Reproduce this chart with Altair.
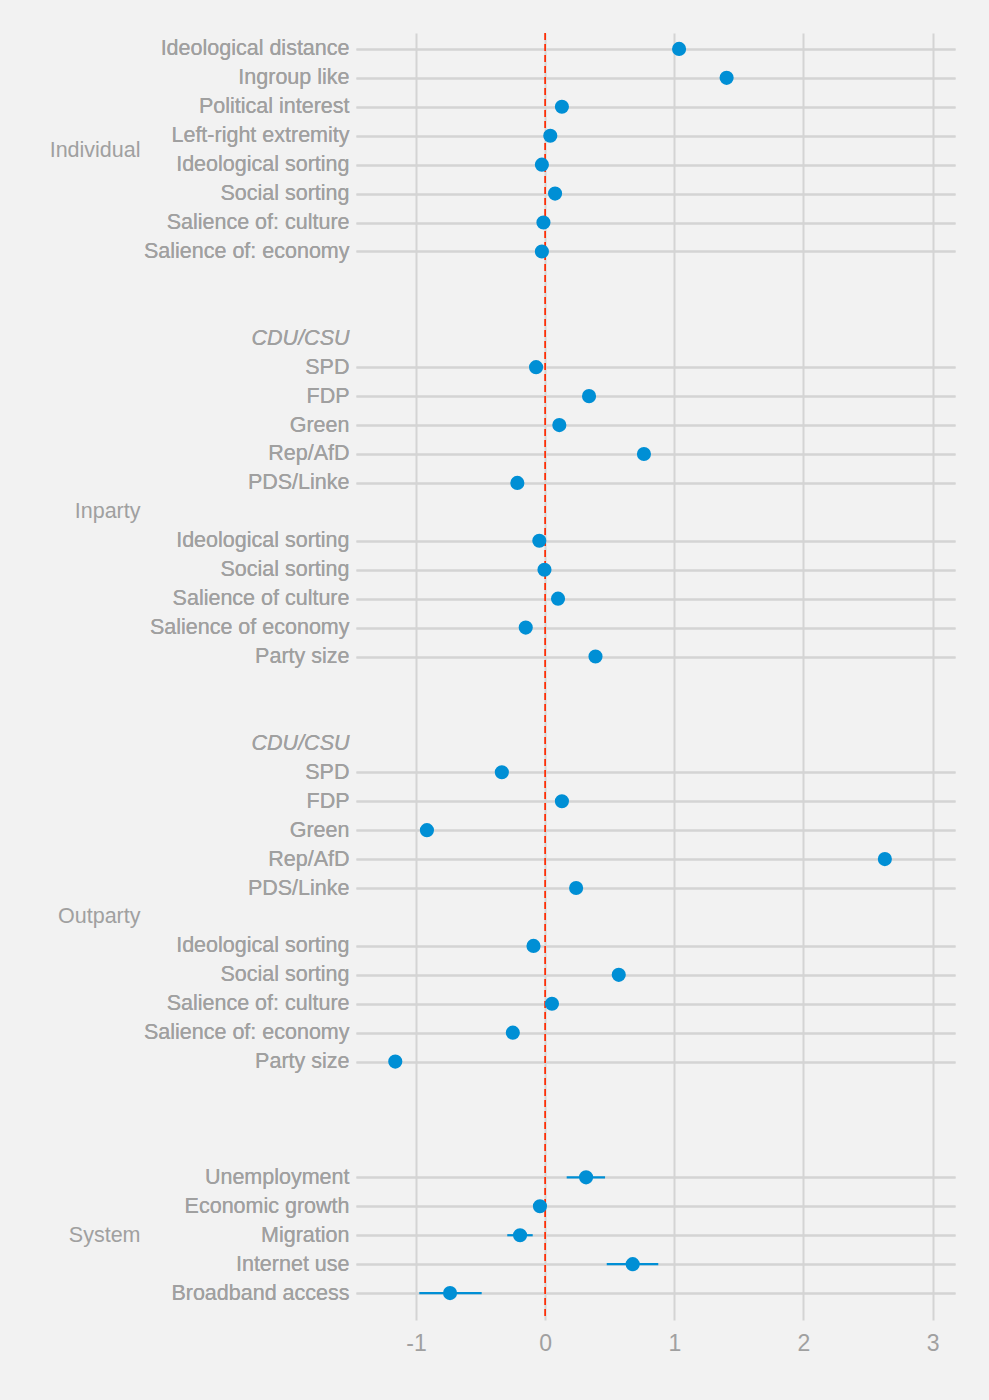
import json
import altair as alt
import pandas as pd

# ---------------- data ----------------
group_names = ["Individual", "Inparty", "Outparty", "System"]
party_header = "CDU/CSU"

ind_labels = ["Ideological distance", "Ingroup like", "Political interest", "Left-right extremity",
              "Ideological sorting", "Social sorting", "Salience of: culture", "Salience of: economy"]
ind_est = [1.037, 1.405, 0.13, 0.04, -0.025, 0.077, -0.013, -0.025]

inp_labels = ["SPD", "FDP", "Green", "Rep/AfD", "PDS/Linke",
              "Ideological sorting", "Social sorting", "Salience of culture", "Salience of economy", "Party size"]
inp_est = [-0.07, 0.34, 0.11, 0.765, -0.215, -0.045, -0.005, 0.10, -0.15, 0.39]

out_labels = ["SPD", "FDP", "Green", "Rep/AfD", "PDS/Linke",
              "Ideological sorting", "Social sorting", "Salience of: culture", "Salience of: economy", "Party size"]
out_est = [-0.335, 0.13, -0.915, 2.63, 0.24, -0.09, 0.57, 0.053, -0.25, -1.16]

sys_labels = ["Unemployment", "Economic growth", "Migration", "Internet use", "Broadband access"]
sys_est = [0.317, -0.04, -0.194, 0.678, -0.736]
sys_lo = [0.167, None, -0.293, 0.477, -0.974]
sys_hi = [0.464, None, -0.096, 0.876, -0.491]

x_ticks = [-1, 0, 1, 2, 3]

# ---------------- rows ----------------
rows = []  # label, est, lo, hi, kind, group


def add(label, est=None, lo=None, hi=None, kind="data", group=None):
    rows.append(dict(label=label, est=est, lo=lo, hi=hi, kind=kind, group=group))


for l, e in zip(ind_labels, ind_est):
    add(l, e, group="Individual")
add("", kind="blank"); add("", kind="blank")
add(party_header, kind="header")
for l, e in zip(inp_labels[:5], inp_est[:5]):
    add(l, e, group="Inparty")
add("", kind="group", group="Inparty")
for l, e in zip(inp_labels[5:], inp_est[5:]):
    add(l, e, group="Inparty")
add("", kind="blank"); add("", kind="blank")
add(party_header, kind="header")
for l, e in zip(out_labels[:5], out_est[:5]):
    add(l, e, group="Outparty")
add("", kind="group", group="Outparty")
for l, e in zip(out_labels[5:], out_est[5:]):
    add(l, e, group="Outparty")
add("", kind="blank"); add("", kind="blank"); add("", kind="blank")
for l, e, lo, hi in zip(sys_labels, sys_est, sys_lo, sys_hi):
    add(l, e, lo, hi, group="System")

df = pd.DataFrame(rows)
df["idx"] = range(len(df))

label_list = df["label"].tolist()
axis_values = df.loc[df["kind"].isin(["data", "header"]), "idx"].tolist()
header_idx = df.loc[df["kind"] == "header", "idx"].tolist()
header_test = " || ".join(f"datum.value == {i}" for i in header_idx)

group_pos = []
for g in group_names:
    ids = df.loc[df["group"] == g, "idx"]
    group_pos.append((ids.min() + ids.max()) / 2)
group_df = pd.DataFrame({"group": group_names, "pos": group_pos})
group_expr = " : ".join(f"datum.value == {p} ? {json.dumps(n)}" for p, n in zip(group_pos, group_names)) + " : ''"

pts = df[df["kind"] == "data"].copy()
ci = df[df["lo"].notna()].copy()

# ---------------- styling ----------------
FONT = "Liberation Sans"
TXT = "#a0a0a0"
GRID = "#d4d4d4"
BLUE = "#008fd5"

xscale = alt.Scale(domain=[-1.464, 3.173], nice=False, zero=False)
yscale = alt.Scale(domain=[-0.55, 43.93], nice=False, zero=False, reverse=True)

xaxis = alt.Axis(values=x_ticks, labelExpr="'' + datum.value", title=None, ticks=False, domain=False,
                 grid=True, gridColor=GRID, gridWidth=2, labelFontSize=23, labelColor=TXT,
                 labelFont=FONT, labelPadding=12)

yaxis = alt.Axis(values=axis_values, labelExpr=f"{json.dumps(label_list)}[datum.value]", title=None,
                 ticks=False, domain=False, grid=True, gridColor=GRID, gridWidth=2,
                 gridOpacity={"condition": {"test": header_test, "value": 0}, "value": 1},
                 labelFontStyle={"condition": {"test": header_test, "value": "italic"}, "value": "normal"},
                 labelFontSize=21.5, labelColor=TXT, labelFont=FONT, labelPadding=7, labelLimit=600,
                 labelOverlap=False, labelBaseline="middle", labelAlign="right", orient="left")

gaxis = alt.Axis(values=group_pos, labelExpr=group_expr, title=None, ticks=False, domain=False,
                 grid=False, labelFontSize=21.5, labelColor=TXT, labelFont=FONT, labelPadding=216,
                 labelLimit=600, labelOverlap=False, labelBaseline="middle", labelAlign="right",
                 orient="left")

X = lambda f: alt.X(f, scale=xscale, axis=xaxis)
Y = lambda f: alt.Y(f, scale=yscale, axis=yaxis)

zero_line = alt.Chart(pd.DataFrame({"x": [0]})).mark_rule(
    color="#ff2a00", strokeDash=[7, 4], strokeWidth=1.7
).encode(x=X("x:Q"))

bars = alt.Chart(ci).mark_rule(color=BLUE, strokeWidth=2.2).encode(
    x=X("lo:Q"), x2="hi:Q", y=Y("idx:Q")
)

points = alt.Chart(pts).mark_circle(color=BLUE, size=200, opacity=1).encode(
    x=X("est:Q"), y=Y("idx:Q")
)

groups = alt.Chart(group_df).mark_point(opacity=0).encode(
    y=alt.Y("pos:Q", scale=yscale, axis=gaxis)
)

chart = alt.layer(zero_line, bars, points, groups).resolve_axis(y="independent").properties(
    width=599, height=1287,
    autosize=alt.AutoSizeParams(type="none"),
    padding={"left": 356, "top": 33, "right": 34, "bottom": 80},
    background="#f2f2f2",
).configure_view(stroke=None)

chart.save("out.html", embed_options={"renderer": "svg", "actions": False})
